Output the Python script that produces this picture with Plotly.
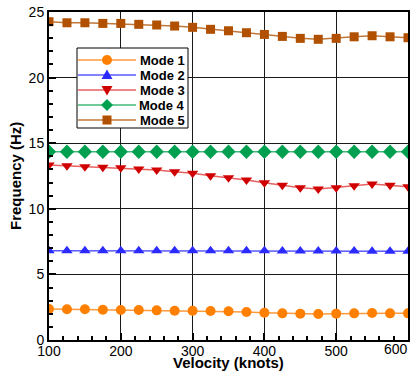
import plotly.graph_objects as go

velocity = [100, 125, 150, 175, 200, 225, 250, 275, 300, 325, 350, 375, 400, 425, 450, 475, 500, 525, 550, 575, 600]
mode1 = [2.36, 2.34, 2.34, 2.31, 2.29, 2.29, 2.26, 2.23, 2.23, 2.21, 2.19, 2.13, 2.08, 2.03, 2.01, 1.98, 2.01, 2.03, 2.06, 2.03, 2.03]
mode2 = [6.81, 6.81, 6.81, 6.81, 6.81, 6.81, 6.81, 6.81, 6.81, 6.80, 6.80, 6.80, 6.80, 6.79, 6.79, 6.78, 6.78, 6.78, 6.77, 6.77, 6.76]
mode3 = [13.34, 13.28, 13.21, 13.16, 13.13, 13.03, 12.96, 12.83, 12.71, 12.52, 12.37, 12.20, 11.99, 11.79, 11.61, 11.51, 11.61, 11.76, 11.89, 11.79, 11.68]
mode4 = [14.35] * 21
mode5 = [24.26, 24.18, 24.18, 24.13, 24.13, 24.06, 24.01, 23.93, 23.83, 23.68, 23.57, 23.42, 23.29, 23.14, 22.99, 22.92, 22.99, 23.11, 23.19, 23.11, 23.04]
mode_names = ["Mode 1", "Mode 2", "Mode 3", "Mode 4", "Mode 5"]
x_tick_vals = [100, 200, 300, 400, 500, 600]

FONT = "Liberation Sans, Arial, Helvetica, sans-serif"
symbols = ["circle", "triangle-up", "triangle-down", "diamond", "square"]
marker_colors = ["#FF8000", "#2B2BFF", "#D00000", "#00A050", "#B05000"]
line_colors = ["#FF9A3C", "#5A5AFF", "#E86060", "#40B878", "#C07838"]
sizes = [10, 10, 10, 11, 9]

X0, X1 = 100, 600
Y0, Y1 = 0, 25

fig = go.Figure()
for name, ys, sym, mc, lc, sz in zip(mode_names, [mode1, mode2, mode3, mode4, mode5],
                                     symbols, marker_colors, line_colors, sizes):
    fig.add_trace(go.Scatter(
        x=velocity, y=ys, name=name, mode="lines+markers", showlegend=False,
        line=dict(color=lc, width=1.5),
        marker=dict(symbol=sym, color=mc, size=sz, line=dict(width=0)),
    ))

# ---- custom legend (positions in px inside the plot area) ----
W, H = 359.0, 328.0
def dx(px):
    return X0 + px / W * (X1 - X0)
def dy(py):
    return Y0 + (1 - py / H) * (Y1 - Y0)

box_l, box_r, box_t, box_b = 28, 139, 36, 116
row_y = [48, 63, 78, 93, 108]
line_l, line_r, mark_x = 29, 87, 58
text_r = 138

glyphs = [
    dict(type="circle", x0=-5, x1=5, y0=-5, y1=5),
    dict(type="path", path="M -5.5 -4 L 5.5 -4 L 0 5.5 Z"),
    dict(type="path", path="M -5.5 4 L 5.5 4 L 0 -5.5 Z"),
    dict(type="path", path="M 0 6 L 6 0 L 0 -6 L -6 0 Z"),
    dict(type="rect", x0=-4.5, x1=4.5, y0=-4.5, y1=4.5),
]

shapes = [dict(type="rect", xref="x", yref="y",
               x0=dx(box_l), x1=dx(box_r), y0=dy(box_b), y1=dy(box_t),
               fillcolor="white", line=dict(color="black", width=1), layer="above")]
annotations = []
for i, name in enumerate(mode_names):
    yy = dy(row_y[i])
    shapes.append(dict(type="line", xref="x", yref="y",
                       x0=dx(line_l), x1=dx(line_r), y0=yy, y1=yy,
                       line=dict(color=line_colors[i], width=1.5), layer="above"))
    g = dict(glyphs[i])
    g.update(xref="x", yref="y", xsizemode="pixel", ysizemode="pixel",
             xanchor=dx(mark_x), yanchor=yy, fillcolor=marker_colors[i],
             line=dict(width=0), layer="above")
    shapes.append(g)
    annotations.append(dict(xref="x", yref="y", x=dx(text_r), y=yy,
                            xanchor="right", yanchor="middle", showarrow=False,
                            text="<b>%s</b>" % name,
                            font=dict(family=FONT, size=13, color="black")))

# last x tick label, right-aligned to the axis end (as in the reference)
annotations.append(dict(xref="paper", yref="paper", x=1.0, y=(340 - 349) / H,
                        xanchor="right", yanchor="middle", showarrow=False,
                        text=str(x_tick_vals[-1]), borderpad=0, borderwidth=0,
                        font=dict(family=FONT, size=14, color="black")))

annotations.append(dict(xref="paper", yref="paper", x=0.5, y=(340 - 362) / H,
                        xanchor="center", yanchor="middle", showarrow=False,
                        text="<b>Velocity (knots)</b>",
                        font=dict(family=FONT, size=15, color="black")))
annotations.append(dict(xref="paper", yref="paper", x=(15 - 49) / W, y=0.5,
                        xanchor="center", yanchor="middle", showarrow=False, textangle=-90,
                        text="<b>Frequency (Hz)</b>",
                        font=dict(family=FONT, size=15, color="black")))

axis_common = dict(
    showline=True, linecolor="black", linewidth=2, mirror=True, automargin=False,
    showgrid=True, gridcolor="#1a1a1a", gridwidth=1.3,
    ticks="inside", ticklen=7, tickwidth=1.5, tickcolor="black",
    zeroline=False,
    tickfont=dict(family=FONT, size=14, color="black"),
)

fig.update_xaxes(
    **axis_common, range=[X0, X1], tickmode="array",
    tickvals=x_tick_vals, ticktext=[str(v) for v in x_tick_vals[:-1]] + [""],
    ticklabelstandoff=-3,
    minor=dict(dtick=20, tick0=100, ticks="inside", ticklen=4, tickcolor="black", showgrid=False),
)
fig.update_yaxes(
    **axis_common, range=[Y0, Y1], dtick=5,
    minor=dict(dtick=1, ticks="inside", ticklen=4, tickcolor="black", showgrid=False),
)

fig.update_layout(
    width=419, height=375, autosize=False,
    margin=dict(l=49, r=11, t=12, b=35),
    plot_bgcolor="white", paper_bgcolor="white",
    showlegend=False,
    shapes=shapes, annotations=annotations,
)

fig.write_html("out.html", config={"displayModeBar": False, "responsive": False},
               post_script="document.body.style.margin='0';document.body.style.overflow='hidden';")
